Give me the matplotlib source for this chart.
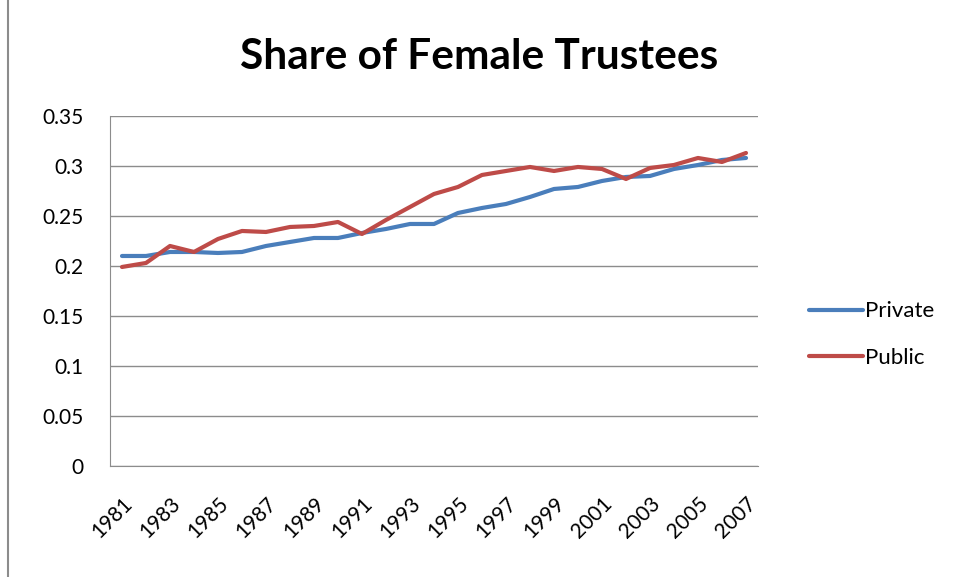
import matplotlib
matplotlib.use('Agg')
import matplotlib.pyplot as plt
from matplotlib.patches import Rectangle
from matplotlib.ticker import FuncFormatter

years = list(range(1981, 2008))
private = [0.210, 0.210, 0.214, 0.214, 0.213, 0.214, 0.220, 0.224, 0.228, 0.228,
           0.233, 0.237, 0.242, 0.242, 0.253, 0.258, 0.262, 0.269, 0.277, 0.279,
           0.285, 0.289, 0.290, 0.297, 0.301, 0.306, 0.308]
public = [0.199, 0.203, 0.220, 0.214, 0.227, 0.235, 0.234, 0.239, 0.240, 0.244,
          0.232, 0.246, 0.259, 0.272, 0.279, 0.291, 0.295, 0.299, 0.295, 0.299,
          0.297, 0.287, 0.298, 0.301, 0.308, 0.304, 0.313]
yticks = [0, 0.05, 0.1, 0.15, 0.2, 0.25, 0.3, 0.35]

plt.rcParams['font.family'] = ['Lato', 'DejaVu Sans']

fig = plt.figure(figsize=(9.59, 5.77), dpi=100)
ax = fig.add_axes([0.1147, 0.1924, 0.6757, 0.6066])

x = list(range(len(years)))
ax.plot(x, private, color='#4A7EBB', lw=3, label='Private', solid_capstyle='round')
ax.plot(x, public, color='#BE4B48', lw=3, label='Public', solid_capstyle='round')

ax.set_xlim(-0.5, len(years) - 0.5)
ax.set_ylim(0, 0.35)
ax.set_yticks(yticks)
ax.yaxis.set_major_formatter(FuncFormatter(lambda v, p: '%g' % v))
ax.grid(axis='y', color='#8c8c8c', lw=1)
ax.set_axisbelow(True)

ax.set_xticks(x[::2])
ax.set_xticklabels([str(y) for y in years[::2]], rotation=45, ha='right',
                   rotation_mode='anchor')
ax.tick_params(axis='x', length=0, labelsize=15, pad=20)
ax.tick_params(axis='y', length=0, labelsize=15, pad=19)

for s in ['top', 'right']:
    ax.spines[s].set_visible(False)
for s in ['left', 'bottom']:
    ax.spines[s].set_color('#8c8c8c')

fig.text(0.4995, 0.901, 'Share of Female Trustees', ha='center', va='center',
         fontsize=30.5, fontweight='bold')

ax.legend(loc='center left', bbox_to_anchor=(0.8225, 0.42), bbox_transform=fig.transFigure,
          frameon=False, fontsize=16, handlelength=2.45, labelspacing=1.2, handletextpad=0.1)

fig.patches.append(Rectangle((0.0083, -0.1), 1.2, 1.2, transform=fig.transFigure,
                             fill=False, edgecolor='#8c8c8c', lw=1.5))

fig.savefig('out.png', dpi=100)
